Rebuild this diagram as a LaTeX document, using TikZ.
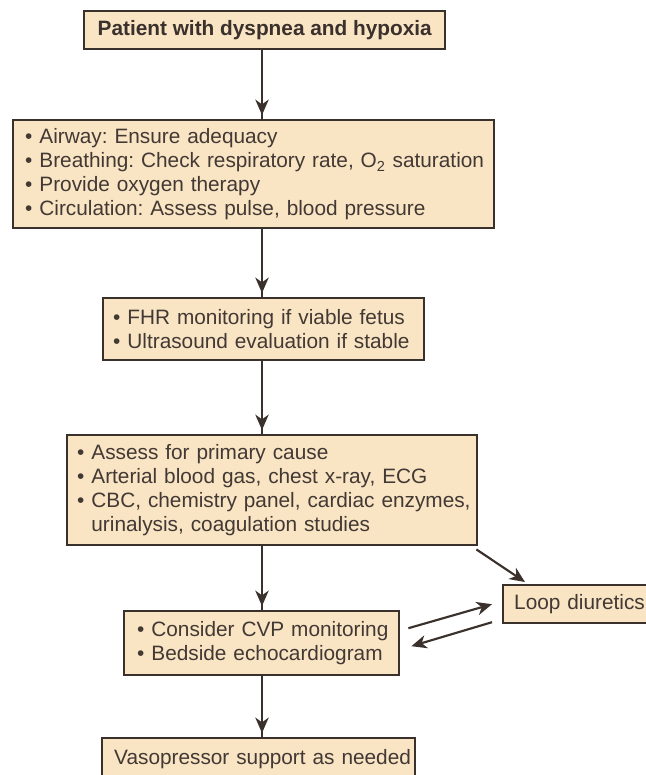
\documentclass[tikz,border=0pt]{standalone}
\usepackage{fontspec}
\setmainfont{Liberation Sans}
\usetikzlibrary{arrows.meta,calc}
\definecolor{boxfill}{RGB}{249,229,196}
\definecolor{boxline}{RGB}{58,48,44}
\definecolor{ink}{RGB}{66,56,52}
\frenchspacing
\begin{document}
\begin{tikzpicture}[x=0.75pt,y=-0.75pt,
  box/.style={draw=boxline, line width=1.8pt, fill=boxfill, text=ink,
    font=\fontsize{15.6pt}{17.8pt}\selectfont, inner ysep=0pt, anchor=north west},
  listbox/.style={box, align=left},
  tip/.style={-{Stealth[length=11.5pt,width=10pt,inset=3.5pt]}},
  link/.style={draw=boxline, line width=1.6pt},
  down/.style={link, postaction={draw=boxline, tip, shorten >=3pt}},
  diag/.style={link, tip}]
\useasboundingbox (0,0) rectangle (646,775);
\clip (0,0) rectangle (646,775);
\fill[white] (0,0) rectangle (646,775);

% main column of boxes
\node[box, font=\fontsize{15.6pt}{17.8pt}\selectfont\bfseries, text=boxline,
  minimum width=270.75pt, minimum height=28.5pt, inner xsep=0pt] (b1) at (83,10)
  {Patient with dyspnea and hypoxia};

\node[listbox, minimum height=81pt, inner xsep=9pt, text width=342.75pt] (b2) at (12,119)
  {\mbox{• Airway: Ensure adequacy}\\
   \mbox{• Breathing: Check respiratory rate, O\textsubscript{2} saturation}\\
   \mbox{• Provide oxygen therapy}\\
   \mbox{• Circulation: Assess pulse, blood pressure}};

\node[listbox, minimum height=46.5pt, inner xsep=7.5pt, text width=225.75pt] (b3) at (102,297)
  {\mbox{• FHR monitoring if viable fetus}\\
   \mbox{• Ultrasound evaluation if stable}};

\node[listbox, minimum height=82.5pt, inner xsep=7.5pt, text width=292.5pt] (b4) at (66,434)
  {\mbox{• Assess for primary cause}\\
   \mbox{• Arterial blood gas, chest x-ray, ECG}\\
   \mbox{• CBC, chemistry panel, cardiac enzymes,}\\
   \mbox{\phantom{• }urinalysis, coagulation studies}};

\node[listbox, minimum height=48pt, inner xsep=9.75pt, text width=186.75pt] (b5) at (123,610)
  {\mbox{• Consider CVP monitoring}\\
   \mbox{• Bedside echocardiogram}};

\node[listbox, minimum height=30.75pt, inner xsep=9pt, text width=216.75pt] (b6) at (101,737)
  {\mbox{Vasopressor support as needed}};

% side box
\node[listbox, minimum height=28.5pt, inner xsep=8.25pt, text width=97.5pt] (loop) at (502,584)
  {\mbox{Loop diuretics}};

% vertical connectors
\coordinate (spine) at (262,0);
\draw[down] (spine |- b1.south) -- (spine |- b2.north);
\draw[down] (spine |- b2.south) -- (spine |- b3.north);
\draw[down] (spine |- b3.south) -- (spine |- b4.north);
\draw[down] (spine |- b4.south) -- (spine |- b5.north);
\draw[down] (spine |- b5.south) -- (spine |- b6.north);

% connectors to and from the side box
\draw[diag] ($(b4.south east)+(-2,3)$) -- ($(loop.north west)+(23,-2)$);
\draw[diag] ($(b5.east)+(8,-15)$) -- ($(loop.west)+(-10,0)$);
\draw[diag] ($(loop.west)+(-10,18)$) -- ($(b5.east)+(11,3)$);
\end{tikzpicture}
\end{document}
